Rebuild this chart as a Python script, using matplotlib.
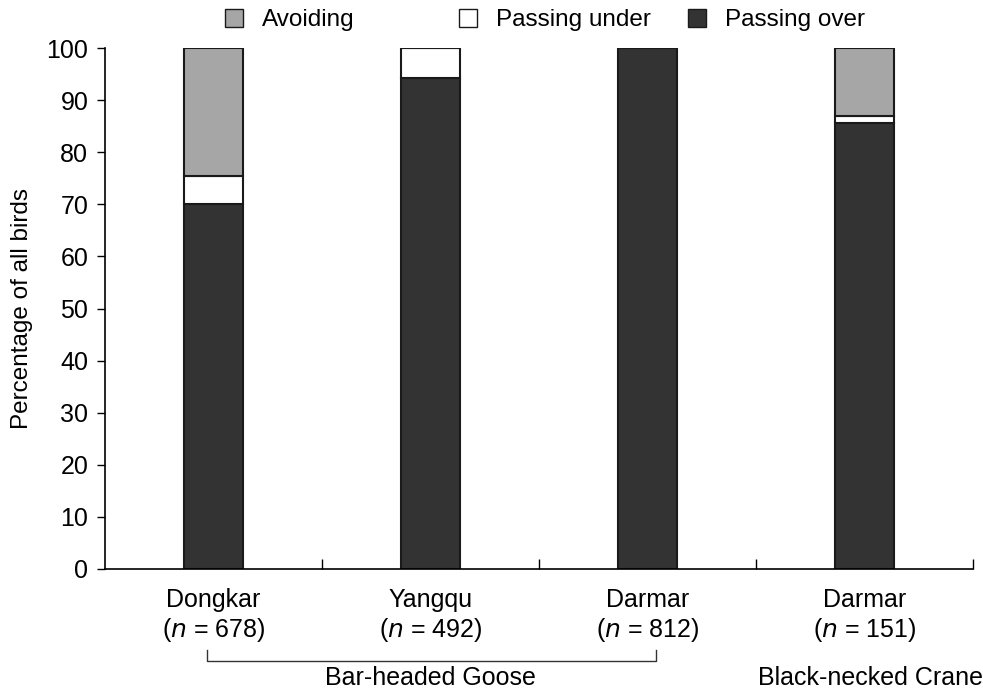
import matplotlib
matplotlib.use('Agg')
import matplotlib.pyplot as plt
from matplotlib.patches import Patch
import numpy as np

sites = ['Dongkar', 'Yangqu', 'Darmar', 'Darmar']
counts = [678, 492, 812, 151]
passing_over = [70.0, 94.3, 100.0, 85.7]
passing_under = [5.5, 5.7, 0.0, 1.3]
avoiding = [24.5, 0.0, 0.0, 13.0]

c_avoid = '#a6a6a6'
c_under = '#ffffff'
c_over = '#333333'
edge = '#1a1a1a'
fs = 18

plt.rcParams['font.family'] = ['Liberation Sans', 'DejaVu Sans']

fig = plt.figure(figsize=(9.83, 6.89), dpi=100)
ax = fig.add_axes([0.1068, 0.1742, 0.883, 0.756])

x = np.arange(len(sites))
w = 0.276
over = np.array(passing_over)
under = np.array(passing_under)
avoid = np.array(avoiding)
ax.bar(x, over, w, color=c_over, edgecolor=edge, linewidth=1.5)
ax.bar(x, under, w, bottom=over, color=c_under, edgecolor=edge, linewidth=1.5)
ax.bar(x, avoid, w, bottom=over + under, color=c_avoid, edgecolor=edge, linewidth=1.5)

ax.set_xlim(-0.5, 3.5)
ax.set_ylim(0, 100)
ax.set_yticks(range(0, 101, 10))
ax.tick_params(axis='y', labelsize=fs, length=6, width=1, direction='out', pad=6)
ax.set_ylabel('Percentage of all birds', fontsize=17.5, labelpad=10)

ax.set_xticks([0.5, 1.5, 2.5, 3.5])
ax.set_xticklabels([])
ax.tick_params(axis='x', direction='in', length=7, width=1)
for s in ['top', 'right']:
    ax.spines[s].set_visible(False)
for s in ['left', 'bottom']:
    ax.spines[s].set_linewidth(1.2)

for xi, name, n in zip(x, sites, counts):
    ax.text(xi, -6.0, name, ha='center', va='center', fontsize=fs, clip_on=False)
    ax.text(xi, -11.8, f'($n$ = {n})', ha='center', va='center', fontsize=fs, clip_on=False)

# bracket for Bar-headed Goose
ax.plot([-0.03, -0.03, 2.04, 2.04], [-15.6, -17.6, -17.6, -15.6], color='#333333',
        lw=1, clip_on=False)
ax.text(1.0, -20.9, 'Bar-headed Goose', ha='center', va='center', fontsize=fs, clip_on=False)
ax.text(3.03, -20.9, 'Black-necked Crane', ha='center', va='center', fontsize=fs, clip_on=False)

# legend entries
entries = [('Avoiding', c_avoid, 0.229), ('Passing under', c_under, 0.467), ('Passing over', c_over, 0.700)]
for label, col, xpos in entries:
    fig.legend(handles=[Patch(facecolor=col, edgecolor=edge, linewidth=1)], labels=[label],
               loc='center left', bbox_to_anchor=(xpos, 0.971), frameon=False,
               fontsize=17.5, handlelength=0.75, handleheight=0.75, handletextpad=0.75,
               borderpad=0, borderaxespad=0)

fig.savefig('out.png', dpi=100)
